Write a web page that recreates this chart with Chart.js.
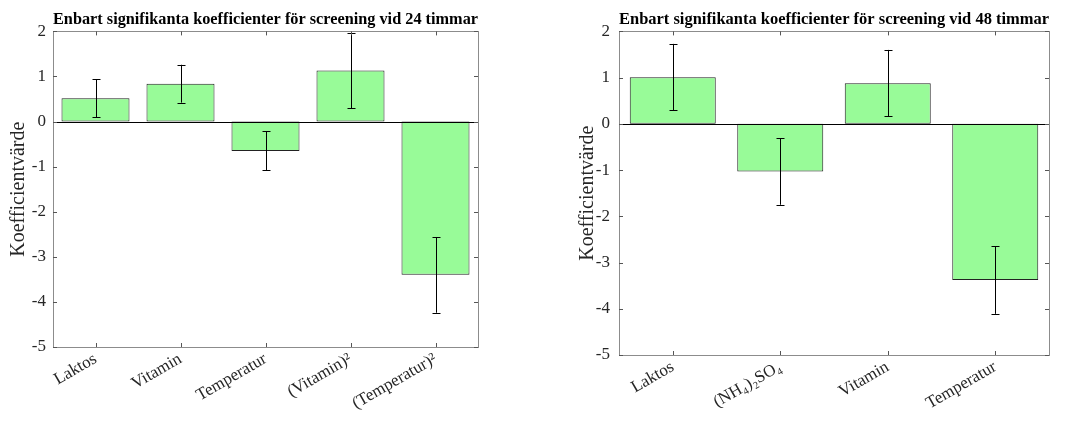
<!DOCTYPE html>
<html>
<head>
<meta charset="utf-8">
<script src="https://cdn.jsdelivr.net/npm/chart.js@4.4.1/dist/chart.umd.min.js"></script>
<style>
  html, body { margin: 0; padding: 0; background: #fff; }
  #left { position: absolute; left: 0; top: 0; width: 540px; height: 424px; }
  #right { position: absolute; left: 540px; top: 0; width: 535px; height: 424px; }
</style>
</head>
<body>
<div id="left"><canvas id="chart24"></canvas></div>
<div id="right"><canvas id="chart48"></canvas></div>
<script>
// 24 h screening
const labels24 = ['Laktos', 'Vitamin', 'Temperatur', '(Vitamin)²', '(Temperatur)²'];
const coef24 = [0.52, 0.84, -0.65, 1.13, -3.40];
const err24 = [0.42, 0.42, 0.43, 0.84, 0.84];

// 48 h screening
const labels48 = ['Laktos', '(NH₄)₂SO₄', 'Vitamin', 'Temperatur'];
const coef48 = [1.01, -1.03, 0.88, -3.38];
const err48 = [0.72, 0.72, 0.72, 0.73];

const yTicks = [-5, -4, -3, -2, -1, 0, 1, 2];

const serif = '"Liberation Serif", "Times New Roman", serif';

// MATLAB-like box, inward ticks, zero line and error bars
const matlabAxes = {
  id: 'matlabAxes',
  afterDatasetsDraw(chart, args, opts) {
    const ctx = chart.ctx;
    const a = chart.chartArea;
    const xs = chart.scales.x;
    const ys = chart.scales.y;
    ctx.save();
    // zero baseline
    ctx.strokeStyle = '#000';
    ctx.lineWidth = 1;
    const y0 = Math.round(ys.getPixelForValue(0)) + 0.5;
    ctx.beginPath();
    ctx.moveTo(a.left, y0);
    ctx.lineTo(a.right, y0);
    ctx.stroke();

    // error bars
    const meta = chart.getDatasetMeta(0);
    const vals = chart.data.datasets[0].data;
    ctx.strokeStyle = '#000';
    meta.data.forEach((bar, i) => {
      const x = Math.round(bar.x) + 0.5;
      const yt = ys.getPixelForValue(vals[i] + opts.errors[i]);
      const yb = ys.getPixelForValue(vals[i] - opts.errors[i]);
      ctx.beginPath();
      ctx.moveTo(x, yt); ctx.lineTo(x, yb);
      ctx.moveTo(x - 4, Math.round(yt) + 0.5); ctx.lineTo(x + 4, Math.round(yt) + 0.5);
      ctx.moveTo(x - 4, Math.round(yb) + 0.5); ctx.lineTo(x + 4, Math.round(yb) + 0.5);
      ctx.stroke();
    });

    // box
    ctx.strokeStyle = '#8c8c8c';
    ctx.strokeRect(Math.round(a.left) + 0.5, Math.round(a.top) + 0.5,
      Math.round(a.right - a.left), Math.round(a.bottom - a.top));

    // inward ticks
    ctx.strokeStyle = '#555';
    ctx.beginPath();
    yTicks.forEach(v => {
      const y = Math.round(ys.getPixelForValue(v)) + 0.5;
      ctx.moveTo(a.left, y); ctx.lineTo(a.left + 4, y);
      ctx.moveTo(a.right, y); ctx.lineTo(a.right - 4, y);
    });
    xs.ticks.forEach((t, i) => {
      const x = Math.round(xs.getPixelForTick(i)) + 0.5;
      ctx.moveTo(x, a.bottom); ctx.lineTo(x, a.bottom - 4);
      ctx.moveTo(x, a.top); ctx.lineTo(x, a.top + 4);
    });
    ctx.stroke();
    ctx.restore();
  }
};

function makeChart(id, labels, values, errors, title, pad, xHeight, yTitlePad, yTickPad) {
  return new Chart(document.getElementById(id), {
    type: 'bar',
    data: {
      labels: labels,
      datasets: [{
        data: values,
        backgroundColor: '#98fb98',
        borderColor: '#222',
        borderWidth: 1,
        borderSkipped: false,
        categoryPercentage: 0.8,
        barPercentage: 1.0
      }]
    },
    options: {
      responsive: true,
      maintainAspectRatio: false,
      animation: false,
      layout: { padding: pad },
      plugins: {
        legend: { display: false },
        tooltip: { enabled: false },
        title: {
          display: true,
          fullSize: false,
          text: title,
          color: '#000',
          font: { family: serif, size: 17, weight: 'bold' },
          padding: { top: 9, bottom: 2 }
        },
        matlabAxes: { errors: errors }
      },
      scales: {
        x: {
          grid: { display: false, drawTicks: false },
          border: { display: false },
          ticks: {
            color: '#262626',
            font: { family: serif, size: 17 },
            maxRotation: 30,
            minRotation: 30,
            autoSkip: false,
            padding: 2
          },
          afterFit: s => { s.height = xHeight; }
        },
        y: {
          min: -5,
          max: 2,
          grid: { display: false, drawTicks: false },
          border: { display: false },
          ticks: {
            stepSize: 1,
            color: '#262626',
            font: { family: serif, size: 17 },
            padding: yTickPad
          },
          title: {
            display: true,
            text: 'Koefficientvärde',
            color: '#262626',
            font: { family: serif, size: 20 },
            padding: { top: yTitlePad, bottom: 0 }
          },
          afterFit: s => { s.width = 53; }
        }
      }
    },
    plugins: [matlabAxes]
  });
}

makeChart('chart24', labels24, coef24, err24,
  'Enbart signifikanta koefficienter för screening vid 24 timmar',
  { left: 0, right: 62, top: 0, bottom: 0 }, 77, 7, 7);
makeChart('chart48', labels48, coef48, err48,
  'Enbart signifikanta koefficienter för screening vid 48 timmar',
  { left: 26, right: 26, top: 0, bottom: 0 }, 69, 10, 9);
</script>
</body>
</html>
